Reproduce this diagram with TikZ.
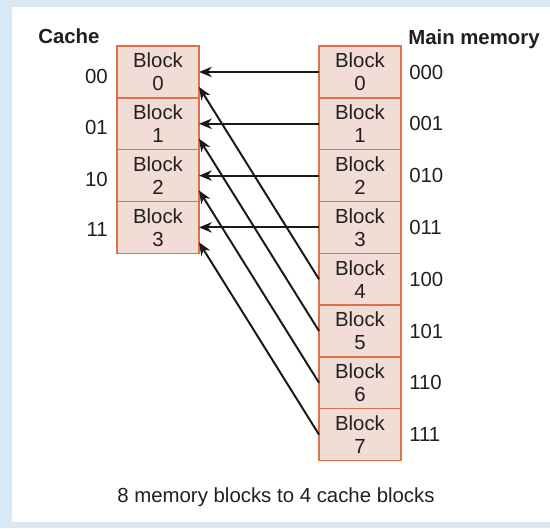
\documentclass[tikz,border=0pt]{standalone}
\usepackage{fontspec}
\setmainfont{Liberation Sans}
\usetikzlibrary{positioning,arrows.meta}
\definecolor{bgblue}{RGB}{216,232,245}
\definecolor{blockfill}{RGB}{242,221,214}
\definecolor{blockline}{RGB}{224,112,72}
\definecolor{inkgray}{RGB}{35,31,32}
\newcommand{\blocksize}{\fontsize{14.5}{16.4}\selectfont}
\tikzset{
  blockbox/.style={draw=blockline, fill=blockfill, line width=1.1pt, minimum width=2.05cm, minimum height=1.295cm, inner sep=0pt, outer sep=0pt, align=center, text=inkgray, font=\blocksize},
  addr/.style={inner sep=0pt, text=inkgray, font=\blocksize},
  maparrow/.style={draw=black!90, line width=1.4pt, -{Stealth[length=3.2mm,width=2.6mm,inset=1mm]}},
}
\begin{document}
\begin{tikzpicture}
\fill[bgblue] (0,0) rectangle (13.75,13.2); % blue frame
\fill[white] (0.3,0.15) rectangle (13.75,13.025); % white page
\useasboundingbox (0,0) rectangle (13.75,13.2);

\node[addr, font=\blocksize\bfseries, anchor=base west] (cachetitle) at (0.95,12.1) {Cache}; % left title
\node[addr, font=\blocksize\bfseries, anchor=base west] (memtitle) at (10.2,12.075) {Main memory}; % right title

% cache blocks
\node[blockbox] (c0) at (3.95,11.4) {Block\\0};
\node[blockbox, below=0pt of c0] (c1) {Block\\1};
\node[blockbox, below=0pt of c1] (c2) {Block\\2};
\node[blockbox, below=0pt of c2] (c3) {Block\\3};

% main memory blocks
\node[blockbox] (m0) at (9.0,11.4) {Block\\0};
\node[blockbox, below=0pt of m0] (m1) {Block\\1};
\node[blockbox, below=0pt of m1] (m2) {Block\\2};
\node[blockbox, below=0pt of m2] (m3) {Block\\3};
\node[blockbox, below=0pt of m3] (m4) {Block\\4};
\node[blockbox, below=0pt of m4] (m5) {Block\\5};
\node[blockbox, below=0pt of m5] (m6) {Block\\6};
\node[blockbox, below=0pt of m6] (m7) {Block\\7};

% cache tags
\node[addr, left=0.225cm of c0, yshift=-0.1cm] (t0) {00};
\node[addr, left=0.225cm of c1, yshift=-0.1cm] (t1) {01};
\node[addr, left=0.225cm of c2, yshift=-0.1cm] (t2) {10};
\node[addr, left=0.225cm of c3, yshift=-0.05cm] (t3) {11};

% memory addresses
\node[addr, right=0.2cm of m0] (a0) {000};
\node[addr, right=0.2cm of m1] (a1) {001};
\node[addr, right=0.2cm of m2] (a2) {010};
\node[addr, right=0.2cm of m3] (a3) {011};
\node[addr, right=0.2cm of m4] (a4) {100};
\node[addr, right=0.2cm of m5] (a5) {101};
\node[addr, right=0.2cm of m6] (a6) {110};
\node[addr, right=0.2cm of m7] (a7) {111};

% mapping arrows
\draw[maparrow] (m0.west) -- (c0.east); % 000 -> 00
\draw[maparrow] (m1.west) -- (c1.east); % 001 -> 01
\draw[maparrow] (m2.west) -- (c2.east); % 010 -> 10
\draw[maparrow] (m3.west) -- (c3.east); % 011 -> 11
\draw[maparrow] (m4.west) -- (c0.-20); % 100 -> 00
\draw[maparrow] (m5.west) -- (c1.-20); % 101 -> 01
\draw[maparrow] (m6.west) -- (c2.-20); % 110 -> 10
\draw[maparrow] (m7.west) -- (c3.-20); % 111 -> 11

\node[addr, anchor=base] (caption) at (6.9,0.65) {8 memory blocks to 4 cache blocks}; % caption
\end{tikzpicture}
\end{document}
